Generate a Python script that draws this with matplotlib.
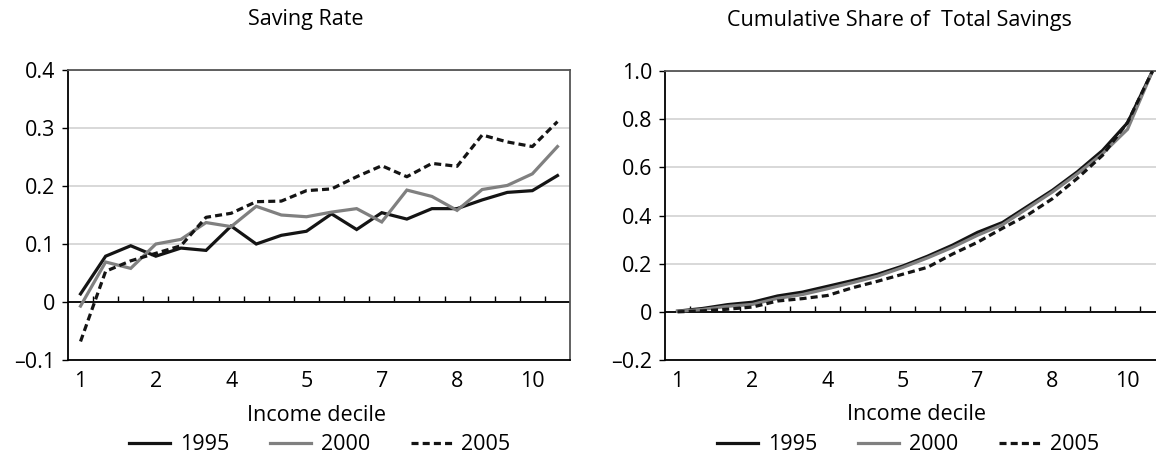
import numpy as np
import matplotlib
matplotlib.use("Agg")
import matplotlib.pyplot as plt

plt.rcParams['font.family'] = ['Open Sans', 'DejaVu Sans']

# 20 income groups, labelled by decile (every third one shown)
groups = np.arange(20)
xtick_pos = [0, 3, 6, 9, 12, 15, 18]
xtick_labels = ['1', '2', '4', '5', '7', '8', '10']

# saving rate
rate_1995 = [0.014, 0.079, 0.097, 0.079, 0.093, 0.089, 0.131, 0.100, 0.115, 0.122,
             0.152, 0.125, 0.154, 0.143, 0.161, 0.161, 0.176, 0.189, 0.192, 0.218]
rate_2000 = [-0.007, 0.069, 0.058, 0.100, 0.108, 0.137, 0.130, 0.165, 0.150, 0.147,
             0.155, 0.161, 0.138, 0.193, 0.182, 0.158, 0.194, 0.201, 0.221, 0.268]
rate_2005 = [-0.068, 0.053, 0.071, 0.084, 0.097, 0.146, 0.153, 0.173, 0.174, 0.192,
             0.195, 0.216, 0.235, 0.216, 0.239, 0.234, 0.288, 0.276, 0.268, 0.311]

# cumulative share of total savings
cum_1995 = [0.003, 0.014, 0.030, 0.040, 0.066, 0.082, 0.106, 0.130, 0.156, 0.190,
            0.231, 0.277, 0.330, 0.371, 0.438, 0.505, 0.582, 0.670, 0.785, 1.0]
cum_2000 = [0.002, 0.010, 0.023, 0.031, 0.056, 0.072, 0.096, 0.121, 0.148, 0.184,
            0.224, 0.268, 0.318, 0.362, 0.430, 0.498, 0.574, 0.657, 0.758, 1.0]
cum_2005 = [0.000, 0.004, 0.011, 0.020, 0.045, 0.055, 0.068, 0.100, 0.127, 0.156,
            0.185, 0.240, 0.289, 0.347, 0.402, 0.470, 0.555, 0.650, 0.786, 1.0]

left_yticks = [-0.1, 0, 0.1, 0.2, 0.3, 0.4]
left_ylabels = ['\u20130.1', '0', '0.1', '0.2', '0.3', '0.4']
right_yticks = [-0.2, 0, 0.2, 0.4, 0.6, 0.8, 1.0]
right_ylabels = ['\u20130.2', '0', '0.2', '0.4', '0.6', '0.8', '1.0']

years = ['1995', '2000', '2005']
colors = ['#141414', '#808080', '#141414']
styles = ['-', '-', (0, (2.2, 1.3))]

FS = 15.5

fig = plt.figure(figsize=(11.56, 4.54), dpi=100)
ax1 = fig.add_axes([0.0588, 0.2070, 0.4343, 0.6388])
ax2 = fig.add_axes([0.5753, 0.2070, 0.4325, 0.6366])


def style_axes(ax, series, yticks, ylabels, title, tx, lx, gx):
    for vals, yr, c, ls in zip(series, years, colors, styles):
        ax.plot(groups, vals, color=c, lw=2.3, linestyle=ls, label=yr,
                dash_capstyle='butt', solid_joinstyle='miter', zorder=3)
    ax.set_xlim(-0.5, 19.5)
    ax.set_ylim(yticks[0], yticks[-1])
    ax.set_yticks(yticks)
    ax.set_yticklabels(ylabels)
    ax.set_xticks(xtick_pos)
    ax.set_xticklabels(xtick_labels)
    ax.tick_params(axis='x', length=0, pad=8, labelsize=FS)
    ax.tick_params(axis='y', length=4, width=1, direction='out', pad=5, labelsize=FS)
    ax.grid(axis='y', color='#d6d6d6', lw=1.3)
    ax.set_axisbelow(True)
    for s in ['left', 'bottom']:
        ax.spines[s].set_color('#000000')
        ax.spines[s].set_linewidth(1.3)
    for s in ['top', 'right']:
        ax.spines[s].set_color('#555555')
        ax.spines[s].set_linewidth(1.3)

    # zero line with category tick marks
    ax.axhline(0, color='#000000', lw=1.3, zorder=2)
    loc = (0 - yticks[0]) / (yticks[-1] - yticks[0])
    sec = ax.secondary_xaxis(loc)
    sec.set_xticks(np.arange(0.5, 19.5, 1.0))
    sec.tick_params(direction='in', length=4.5, width=1, labelbottom=False, color='#000000')
    sec.spines['bottom'].set_visible(False)

    ax.set_title(title, x=tx, y=1.145, va='center', fontsize=FS)
    ax.set_xlabel('Income decile', fontsize=FS, va='center')
    ax.xaxis.set_label_coords(lx, -0.19)
    ax.legend(loc='center', bbox_to_anchor=(gx, -0.293), ncol=3, frameon=False,
              fontsize=FS, handlelength=1.9, handletextpad=0.45, columnspacing=1.9,
              borderaxespad=0, borderpad=0)


style_axes(ax1, [rate_1995, rate_2000, rate_2005], left_yticks, left_ylabels,
           'Saving Rate', 0.474, 0.496, 0.502)
style_axes(ax2, [cum_1995, cum_2000, cum_2005], right_yticks, right_ylabels,
           'Cumulative Share of  Total Savings', 0.468, 0.502, 0.486)

fig.savefig('out.png', dpi=100)
